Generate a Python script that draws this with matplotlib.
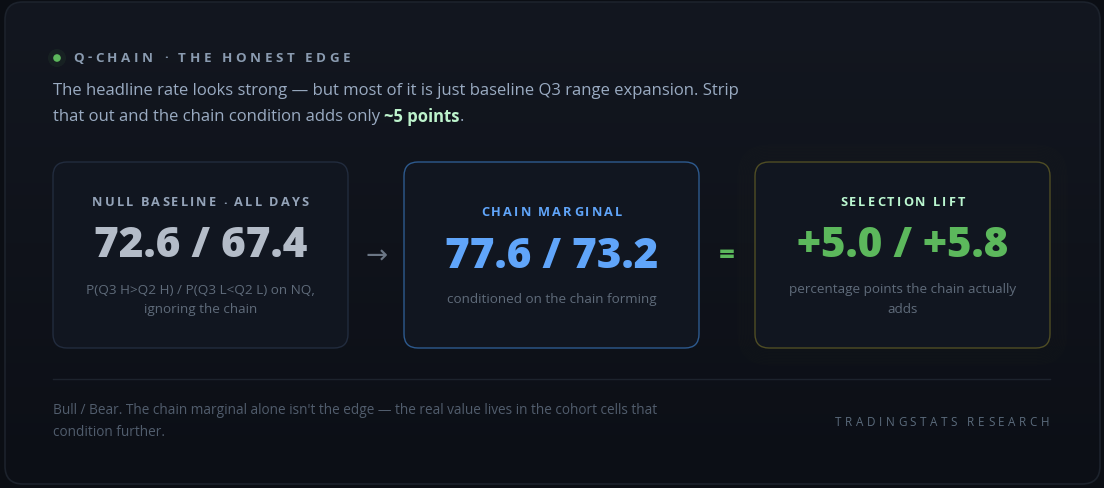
import numpy as np
import matplotlib.pyplot as plt
from matplotlib.patches import FancyBboxPatch, Circle
from matplotlib.font_manager import FontProperties

# card content
card_labels = ["NULL BASELINE · ALL DAYS", "CHAIN MARGINAL", "SELECTION LIFT"]
bull_vals = [72.6, 77.6, 5.0]
bear_vals = [67.4, 73.2, 5.8]
card_notes = [["P(Q3 H>Q2 H) / P(Q3 L<Q2 L) on NQ,", "ignoring the chain"],
              ["conditioned on the chain forming"],
              ["percentage points the chain actually", "adds"]]
title = "Q-CHAIN · THE HONEST EDGE"
sub1 = "The headline rate looks strong — but most of it is just baseline Q3 range expansion. Strip"
sub2a = "that out and the chain condition adds only "
sub2b = "~5 points"
foot1 = "Bull / Bear. The chain marginal alone isn't the edge — the real value lives in the cohort cells that"
foot2 = "condition further."
brand = "TRADINGSTATS RESEARCH"

FONT = "Open Sans"
W, H = 1104, 488
fig = plt.figure(figsize=(W / 100, H / 100), dpi=100)
fig.patch.set_facecolor("#0b0e14")
ax = fig.add_axes([0, 0, 1, 1])
ax.set_xlim(0, W)
ax.set_ylim(H, 0)
ax.axis("off")
renderer = fig.canvas.get_renderer()


def tw(s, size, weight="normal"):
    fp = FontProperties(family=FONT, size=size, weight=weight)
    w, h, d = renderer.get_text_width_height_descent(s, fp, ismath=False)
    return w


def spaced(x, y, s, size, color, track, weight="bold", ha="left"):
    widths = [tw(c, size, weight) for c in s]
    total = sum(widths) + track * (len(s) - 1)
    if ha == "center":
        x = x - total / 2
    elif ha == "right":
        x = x - total
    for c, w in zip(s, widths):
        ax.text(x, y, c, fontsize=size, color=color, fontweight=weight,
                family=FONT, va="center", ha="left", zorder=7)
        x += w + track


# outer card with vertical gradient
outer = FancyBboxPatch((5, 2), 1095, 482, boxstyle="round,pad=0,rounding_size=18",
                       fc="none", ec="#1c222c", lw=1.2, zorder=2)
ax.add_patch(outer)
grad = np.linspace(0, 1, 256).reshape(-1, 1)
top = np.array([0x13, 0x17, 0x20]) / 255
bot = np.array([0x0c, 0x0f, 0x16]) / 255
img = top + (bot - top) * grad[:, :, None]
im = ax.imshow(img, extent=[5, 1100, 484, 2], aspect="auto", zorder=1)
im.set_clip_path(outer)

# header
ax.add_patch(Circle((57, 58), 9, fc="#5cb85c", alpha=0.07, ec="none", zorder=3))
ax.add_patch(Circle((57, 58), 3.8, fc="#5cb85c", ec="none", zorder=4))
spaced(73, 58, title, 9.6, "#8a9bb0", 3.6)
SUB = 12.0
ax.text(53, 91, sub1, fontsize=SUB, color="#9aabc2", family=FONT, va="center")
ax.text(53, 117, sub2a, fontsize=SUB, color="#9aabc2", family=FONT, va="center")
xb = 53 + tw(sub2a, SUB)
ax.text(xb, 117, sub2b, fontsize=SUB, color="#bdf3cc", family=FONT,
        fontweight="bold", va="center")
ax.text(xb + tw(sub2b, SUB, "bold"), 117, ".", fontsize=SUB, color="#9aabc2",
        family=FONT, va="center")

# three cards
card_x = [53, 404, 755]
card_w, card_y, card_h = 295, 162, 186
borders = ["#222c3e", "#2d5a8e", "#4f4d24"]
label_cols = ["#94a3b8", "#60a5fa", "#bbf7d0"]
num_cols = ["#b4bcc8", "#60a5fa", "#5cb85c"]
label_y = [203, 213, 203]
num_y = [246, 257, 246]
note_y = [290, 299, 290]

# soft glow behind the lift card
for k in range(1, 12):
    ax.add_patch(FancyBboxPatch((card_x[2] - k * 1.5, card_y - k * 1.5),
                                card_w + k * 3.0, card_h + k * 3.0,
                                boxstyle="round,pad=0,rounding_size=%f" % (14 + k * 1.5),
                                fc="none", ec="#6b6a2a", lw=1.5, alpha=0.018, zorder=3))

for i in range(3):
    ax.add_patch(FancyBboxPatch((card_x[i], card_y), card_w, card_h,
                                boxstyle="round,pad=0,rounding_size=14",
                                fc="#111620", ec=borders[i], lw=1.0, zorder=4))
    cx = card_x[i] + card_w / 2
    spaced(cx, label_y[i], card_labels[i], 9.2, label_cols[i], 2.1, ha="center")
    if i == 2:
        num = "+%.1f / +%.1f" % (bull_vals[i], bear_vals[i])
    else:
        num = "%.1f / %.1f" % (bull_vals[i], bear_vals[i])
    ax.text(cx, num_y[i], num, fontsize=30.3, color=num_cols[i], family=FONT,
            fontweight="heavy", ha="center", va="center", zorder=5)
    for j, line in enumerate(card_notes[i]):
        ax.text(cx, note_y[i] + j * 19.5, line, fontsize=9.7, color="#5f6b7a",
                family=FONT, ha="center", va="center", zorder=5)

ax.text(377, 257, "→", fontsize=19, color="#6b7685", family=["DejaVu Sans"],
        ha="center", va="center", zorder=5)
ax.text(727, 256, "=", fontsize=20, color="#5cb85c", family=FONT, fontweight="bold",
        ha="center", va="center", zorder=5)

# footer
ax.plot([53, 1050], [379, 379], color="#1d232d", lw=1.0, zorder=5)
ax.text(53, 411, foot1, fontsize=9.8, color="#515d6d", family=FONT, va="center", zorder=5)
ax.text(53, 433, foot2, fontsize=9.8, color="#515d6d", family=FONT, va="center", zorder=5)
spaced(1049, 422, brand, 8.4, "#5b6b7c", 3.55, weight="normal", ha="right")

fig.savefig("out.png", dpi=100, facecolor=fig.get_facecolor())
